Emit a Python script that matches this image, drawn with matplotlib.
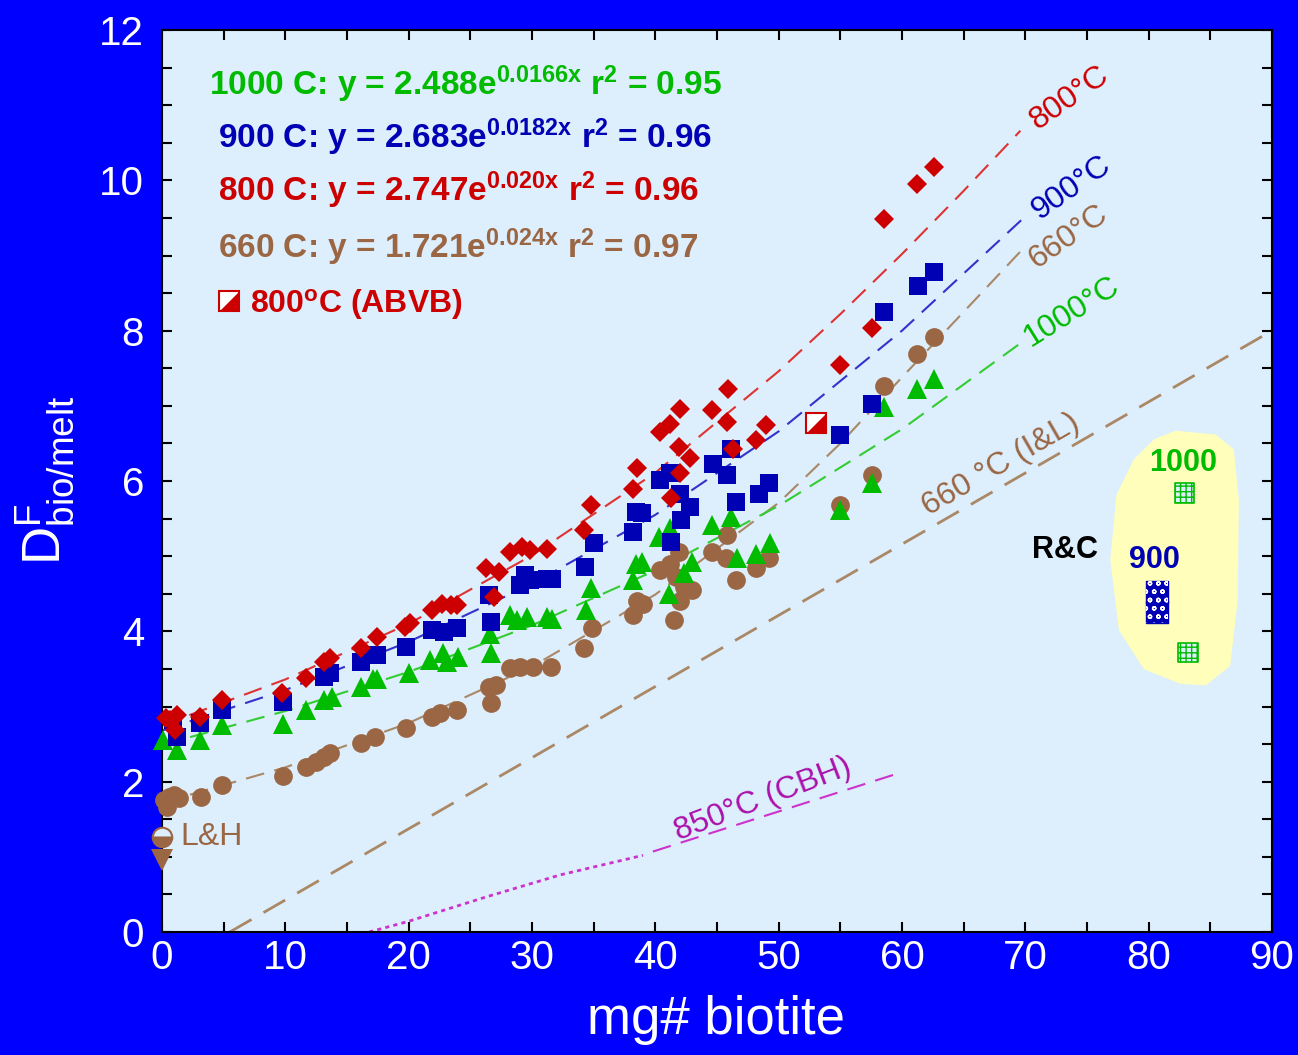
import matplotlib
matplotlib.use('Agg')
import matplotlib.pyplot as plt
from matplotlib.patches import Polygon
from matplotlib.ticker import MultipleLocator

plt.rcParams['font.family'] = ['Liberation Sans', 'DejaVu Sans']
plt.rcParams['mathtext.fontset'] = 'custom'
plt.rcParams['mathtext.rm'] = 'Liberation Sans'
plt.rcParams['mathtext.it'] = 'Liberation Sans:italic'
plt.rcParams['mathtext.bf'] = 'Liberation Sans:bold'

# ---------------- data ----------------
red800_x = [0.65, 1.19, 1.05, 0.3, 3.08, 4.84, 9.7, 11.7, 13.1, 13.6, 16.1, 17.4, 19.7, 20.1, 21.9,
            22.7, 23.4, 23.9, 26.3, 26.9, 27.3, 28.2, 29.2, 29.8, 31.2, 34.2, 34.8, 38.2, 38.5, 40.4,
            41.2, 42.0, 41.9, 42.0, 41.3, 42.8, 44.6, 45.9, 45.8, 46.3, 48.2, 49.0, 55.0, 57.6, 58.5,
            61.2, 62.6]
red800_y = [2.82, 2.89, 2.69, 2.85, 2.86, 3.09, 3.18, 3.38, 3.59, 3.64, 3.78, 3.93, 4.06, 4.11, 4.28,
            4.37, 4.35, 4.35, 4.84, 4.46, 4.79, 5.06, 5.12, 5.08, 5.10, 5.35, 5.68, 5.90, 6.17, 6.65,
            6.76, 6.96, 6.45, 6.10, 5.77, 6.30, 6.94, 7.23, 6.79, 6.43, 6.54, 6.74, 7.54, 8.03, 9.49,
            9.95, 10.18]

blue900_x = [0.9, 1.2, 3.1, 4.84, 9.84, 13.1, 13.6, 16.1, 17.0, 17.4, 19.8, 21.9, 22.9, 23.9, 26.5,
             26.7, 29.0, 29.4, 29.8, 31.2, 31.6, 34.3, 35.0, 38.2, 38.4, 38.9, 40.4, 41.2, 42.0, 42.8,
             42.1, 41.3, 44.7, 46.1, 45.8, 46.5, 48.4, 49.2, 55.0, 57.6, 58.5, 61.3, 62.6]
blue900_y = [2.82, 2.60, 2.78, 2.95, 3.06, 3.39, 3.44, 3.59, 3.68, 3.68, 3.79, 4.02, 3.99, 4.04, 4.48,
             4.13, 4.61, 4.75, 4.68, 4.70, 4.70, 4.86, 5.17, 5.32, 5.59, 5.57, 6.01, 6.10, 5.83, 5.66,
             5.48, 5.19, 6.23, 6.43, 6.08, 5.72, 5.83, 5.97, 6.61, 7.03, 8.25, 8.60, 8.78]

green1000_x = [0.1, 1.2, 3.1, 4.84, 9.84, 11.7, 13.1, 13.8, 16.1, 17.1, 17.4, 20.0, 21.7, 22.8, 23.1,
               24.0, 26.7, 26.6, 28.2, 28.8, 29.6, 31.2, 31.6, 34.4, 34.8, 38.4, 38.9, 38.2, 40.3, 41.2,
               43.0, 42.3, 41.1, 44.6, 46.1, 46.6, 48.2, 49.3, 55.0, 57.6, 58.5, 61.2, 62.6]
green1000_y = [2.55, 2.42, 2.55, 2.75, 2.77, 2.95, 3.09, 3.13, 3.26, 3.37, 3.37, 3.44, 3.62, 3.71, 3.59,
               3.66, 3.71, 3.97, 4.22, 4.15, 4.19, 4.19, 4.17, 4.28, 4.57, 4.90, 4.92, 4.68, 5.26, 5.37,
               4.92, 4.77, 4.50, 5.41, 5.52, 4.97, 5.03, 5.17, 5.61, 5.97, 6.98, 7.23, 7.36]

brown660_x = [0.2, 0.6, 1.0, 1.4, 0.4, 3.2, 4.84, 9.84, 11.7, 12.5, 13.1, 13.6, 16.1, 17.3, 19.8, 21.9,
              22.5, 23.9, 26.7, 26.5, 27.1, 28.2, 29.0, 30.1, 31.5, 34.2, 34.85, 38.5, 39.0, 38.2,
              40.4, 41.2, 41.9, 41.7, 42.3, 43.0, 42.0, 41.5, 44.6, 45.8, 45.7, 46.5, 48.2, 49.2, 55.0,
              57.6, 58.5, 61.2, 62.6]
brown660_y = [1.76, 1.80, 1.82, 1.78, 1.66, 1.80, 1.95, 2.07, 2.20, 2.26, 2.33, 2.38, 2.51, 2.60, 2.71,
              2.86, 2.91, 2.95, 3.04, 3.26, 3.28, 3.51, 3.53, 3.53, 3.53, 3.78, 4.04, 4.41, 4.37, 4.22,
              4.81, 4.90, 5.06, 4.72, 4.59, 4.55, 4.41, 4.15, 5.06, 5.28, 4.97, 4.68, 4.84, 4.97, 5.68,
              6.08, 7.27, 7.69, 7.92]

# special points
abvb_x, abvb_y = [53.0], [6.77]
lh_circle_x, lh_circle_y = [0.0], [1.27]
lh_tri_x, lh_tri_y = [0.0], [0.96]
rc1000_x, rc1000_y = [82.9, 83.2], [5.84, 3.72]
rc900_x, rc900_y = [80.7, 80.7], [4.52, 4.26]

# fitted trend curves
fit800_x = [0, 10, 20, 30, 40, 50, 55, 60, 65, 69.6]
fit800_y = [2.75, 3.36, 4.10, 5.01, 6.11, 7.46, 8.22, 9.02, 9.86, 10.66]
fit900_x = [0, 10, 20, 30, 40, 50, 60, 69.8]
fit900_y = [2.68, 3.22, 3.86, 4.63, 5.55, 6.66, 8.00, 9.49]
fit660_x = [0, 10, 20, 30, 40, 50, 55, 60, 65, 70.1]
fit660_y = [1.72, 2.19, 2.78, 3.53, 4.49, 5.71, 6.50, 7.38, 8.25, 9.14]
fit1000_x = [0, 10, 20, 30, 40, 50, 60, 70]
fit1000_y = [2.49, 2.94, 3.46, 4.08, 4.81, 5.67, 6.69, 7.88]
il660_x = [5.5, 90]
il660_y = [0.0, 8.0]
cbh_dot_x = [16.8, 19.95, 26.35, 32.3, 39.0]
cbh_dot_y = [0.0, 0.14, 0.47, 0.76, 1.02]
cbh_dash_x = [39.8, 59.3]
cbh_dash_y = [1.07, 2.09]

# R&C field outline
rc_blob_x = [82.2, 85.4, 86.8, 87.2, 87.1, 86.5, 84.6, 82.6, 79.7, 77.7, 77.0, 77.5, 78.9, 80.5]
rc_blob_y = [6.65, 6.60, 6.41, 5.74, 4.41, 3.55, 3.30, 3.32, 3.51, 4.02, 4.95, 5.81, 6.28, 6.54]

x_ticks = [0, 10, 20, 30, 40, 50, 60, 70, 80, 90]
y_ticks = [0, 2, 4, 6, 8, 10, 12]

# ---------------- colours ----------------
BG = '#0000FF'
FACE = '#DDEEFC'
RED = '#CC0000'
BLUE = '#0000B4'
GREEN = '#00BB00'
BROWN = '#9A6644'
MAG = '#AA11AA'

fig = plt.figure(figsize=(12.98, 10.55), dpi=100, facecolor=BG)
ax = fig.add_axes([162 / 1298, 1 - 932 / 1055, 1110 / 1298, 902 / 1055])
ax.set_facecolor(FACE)
ax.set_xlim(0, 90)
ax.set_ylim(0, 12)
ax.set_xticks(x_ticks)
ax.set_yticks(y_ticks)
ax.xaxis.set_minor_locator(MultipleLocator(5))
ax.yaxis.set_minor_locator(MultipleLocator(0.5))
ax.tick_params(which='both', direction='in', top=True, right=True, length=7.5, width=1.5,
               color='black')
ax.tick_params(axis='x', which='major', labelsize=29, labelcolor='white', pad=5)
ax.tick_params(axis='y', which='major', labelsize=29, labelcolor='white', pad=13)
for s in ax.spines.values():
    s.set_color('black')
    s.set_linewidth(1.5)

# R&C field
ax.add_patch(Polygon(list(zip(rc_blob_x, rc_blob_y)), closed=True, facecolor='#FFFFBB',
                     edgecolor='#FFFFBB', linewidth=2, joinstyle='round', zorder=1))

# trend lines
ax.plot(fit800_x, fit800_y, color='#DD3333', lw=1.5, dashes=(9, 5), zorder=2)
ax.plot(fit900_x, fit900_y, color='#3333CC', lw=1.5, dashes=(9, 5), zorder=2)
ax.plot(fit660_x, fit660_y, color='#AA8866', lw=1.5, dashes=(9, 5), zorder=2)
ax.plot(fit1000_x, fit1000_y, color='#33CC33', lw=1.5, dashes=(9, 5), zorder=2)
ax.plot(il660_x, il660_y, color='#AA8866', lw=2, dashes=(9, 5), zorder=2)
ax.plot(cbh_dot_x, cbh_dot_y, color='#CC33CC', lw=2, dashes=(1.5, 1.5), zorder=2)
ax.plot(cbh_dash_x, cbh_dash_y, color='#CC33CC', lw=1.5, dashes=(9, 5), zorder=2)

# data points
ax.plot(brown660_x, brown660_y, 'o', color=BROWN, ms=13.5, mew=0, zorder=3, clip_on=False)
ax.plot(green1000_x, green1000_y, '^', color=GREEN, ms=14.5, mew=0, zorder=4, clip_on=False)
ax.plot(blue900_x, blue900_y, 's', color=BLUE, ms=13, mew=0, zorder=5, clip_on=False)
ax.plot(red800_x, red800_y, 'D', color=RED, ms=10.5, mew=0, zorder=6, clip_on=False)

# ABVB half-filled square
tri = [(-1, -1), (1, -1), (1, 1), (-1, -1)]
ax.plot(abvb_x, abvb_y, 's', mfc='white', mec=RED, mew=1.5, ms=14, zorder=7)
ax.plot(abvb_x, abvb_y, marker=tri, color=RED, mew=0, ms=14, zorder=8)

# L&H symbols
ax.plot(lh_circle_x, lh_circle_y, 'o', ms=14, mfc=BROWN, mec=BROWN, fillstyle='bottom',
        mfcalt=FACE, mew=1.5, zorder=7, clip_on=False)
ax.plot(lh_tri_x, lh_tri_y, 'v', ms=16, color=BROWN, mew=0, zorder=7, clip_on=False)
ax.text(1.5, 1.27, 'L&H', color=BROWN, fontsize=23, va='center', ha='left')

# R&C symbols
ax.scatter(rc1000_x, rc1000_y, marker='s', s=200, facecolor=FACE, edgecolor=GREEN,
           hatch='+++', linewidths=1.2, zorder=7)
ax.scatter(rc900_x, rc900_y, marker='s', s=250, facecolor=BLUE, edgecolor=BLUE,
           linewidths=1.0, zorder=7)
ax.scatter(rc900_x, rc900_y, marker='s', s=250, facecolor='none', edgecolor='white',
           hatch='oo', linewidths=0, zorder=8)
ax.text(82.8, 6.24, '1000', color=GREEN, fontsize=22, fontweight='bold', ha='center',
        va='center')
ax.text(80.5, 4.95, '900', color=BLUE, fontsize=22, fontweight='bold', ha='center', va='center')
ax.text(73.2, 5.08, 'R&C', color='black', fontsize=22, fontweight='bold', ha='center',
        va='center')

# curve labels
ax.text(73.6, 11.1, '800°C', color=RED, fontsize=23, rotation=35, ha='center', va='center')
ax.text(73.7, 9.9, '900°C', color=BLUE, fontsize=23, rotation=35, ha='center', va='center')
ax.text(73.5, 9.25, '660°C', color=BROWN, fontsize=23, rotation=35, ha='center', va='center')
ax.text(73.8, 8.25, '1000°C', color=GREEN, fontsize=23, rotation=32, ha='center', va='center')
ax.text(68.0, 6.21, '660 °C (I&L)', color=BROWN, fontsize=23, rotation=30, ha='center',
        va='center')
ax.text(48.7, 1.76, '850°C (CBH)', color=MAG, fontsize=23, rotation=21, ha='center',
        va='center')

# equations
eq_kw = dict(fontsize=24, fontweight='bold', ha='left', va='baseline')
ax.text(3.81, 11.13, r'1000 C: y = 2.488e$\mathregular{^{0.0166x}}$ r$\mathregular{^{2}}$ = 0.95',
        color=GREEN, **eq_kw)
ax.text(4.5, 10.43, r'900 C: y = 2.683e$\mathregular{^{0.0182x}}$ r$\mathregular{^{2}}$ = 0.96',
        color=BLUE, **eq_kw)
ax.text(4.5, 9.73, r'800 C: y = 2.747e$\mathregular{^{0.020x}}$ r$\mathregular{^{2}}$ = 0.96',
        color=RED, **eq_kw)
ax.text(4.5, 8.96, r'660 C: y = 1.721e$\mathregular{^{0.024x}}$ r$\mathregular{^{2}}$ = 0.97',
        color=BROWN, **eq_kw)
ax.plot([0.0605], [0.7], 's', mfc='white', mec=RED, mew=1.5, ms=14, transform=ax.transAxes)
ax.plot([0.0605], [0.7], marker=tri, color=RED, mew=0, ms=14, transform=ax.transAxes)
ax.text(7.14, 8.23, r'800$\mathregular{^{o}}$C (ABVB)', color=RED, fontsize=23,
        fontweight='bold', ha='left', va='baseline')

# axis labels
fig.text(716 / 1298, 1 - 1020 / 1055, 'mg# biotite', color='white', fontsize=38,
         ha='center', va='center')
fig.text(45 / 1298, 1 - 480 / 1055, r'$\mathregular{D^{F}_{bio/melt}}$', color='white',
         fontsize=38, rotation=90, ha='center', va='center')

fig.savefig('out.png', dpi=100, facecolor=BG)
